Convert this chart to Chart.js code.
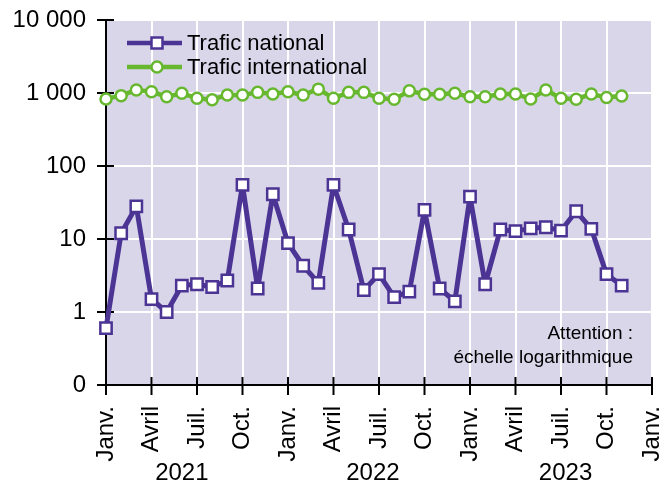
<!DOCTYPE html>
<html lang="fr">
<head>
    <meta charset="UTF-8">
    <title>Trafic national / international</title>
    <style>
        html, body { margin: 0; padding: 0; background: #fff; }
        #chart { width: 665px; height: 484px; }
    </style>
</head>
<body>
    <div id="chart"><canvas id="c" width="665" height="484"></canvas></div>
<script src="https://cdn.jsdelivr.net/npm/chart.js@4/dist/chart.umd.min.js"></script>
<script>
    // mois de janv. 2021 à nov. 2023
    const mois = [
        '2021-01','2021-02','2021-03','2021-04','2021-05','2021-06','2021-07','2021-08','2021-09','2021-10','2021-11','2021-12',
        '2022-01','2022-02','2022-03','2022-04','2022-05','2022-06','2022-07','2022-08','2022-09','2022-10','2022-11','2022-12',
        '2023-01','2023-02','2023-03','2023-04','2023-05','2023-06','2023-07','2023-08','2023-09','2023-10','2023-11'
    ];
    const traficNational = [
        0.6, 12, 28, 1.5, 1.0, 2.3, 2.4, 2.2, 2.7, 55, 2.1, 41,
        8.8, 4.3, 2.5, 55, 13.5, 2.0, 3.3, 1.6, 1.9, 25, 2.1, 1.4,
        38, 2.4, 13.5, 12.8, 14, 14.5, 13, 24, 13.8, 3.3, 2.3
    ];
    const traficInternational = [
        830, 920, 1100, 1040, 890, 990, 850, 810, 940, 940, 1020, 970,
        1040, 940, 1130, 850, 1020, 1020, 850, 820, 1070, 960, 960, 990,
        890, 890, 970, 970, 830, 1100, 850, 820, 970, 870, 910
    ];
    const nomsMois = ['Janv.', 'Avril', 'Juil.', 'Oct.'];
    const annees = ['2021', '2022', '2023'];
    const posAnnees = [5, 17.6, 30.3];
    const yTicks = [0.1, 1, 10, 100, 1000, 10000];

    const violet = '#4b3494';
    const vert = '#67b82e';
    const fond = '#d9d6ea';
    const police = '"Liberation Sans", Arial, sans-serif';

    const fmt = (v) => {
        if (v === 0.1) return '0';
        return String(v).replace(/\B(?=(\d{3})+(?!\d))/g, '\u00a0');
    };

    const sansMarge = (s) => {
        s.paddingLeft = 0;
        s.paddingRight = 0;
        s.paddingTop = 0;
        s.paddingBottom = 0;
    };

    const decor = {
        id: 'decor',
        beforeDraw(chart) {
            const { ctx, chartArea: a } = chart;
            ctx.save();
            ctx.fillStyle = fond;
            ctx.fillRect(a.left, a.top, a.right - a.left, a.bottom - a.top);
            ctx.restore();
        },
        beforeDatasetsDraw(chart) {
            const { ctx, chartArea: a, scales } = chart;
            ctx.save();
            // axes
            ctx.strokeStyle = '#000';
            ctx.lineWidth = 2;
            ctx.beginPath();
            ctx.moveTo(a.left, a.top);
            ctx.lineTo(a.left, a.bottom);
            ctx.lineTo(a.right, a.bottom);
            ctx.stroke();
            // graduations croisées
            scales.y.ticks.forEach(t => {
                const y = scales.y.getPixelForValue(t.value);
                ctx.beginPath();
                ctx.moveTo(a.left - 9, y);
                ctx.lineTo(a.left + 8, y);
                ctx.stroke();
            });
            scales.x.ticks.forEach(t => {
                const x = scales.x.getPixelForValue(t.value);
                ctx.beginPath();
                ctx.moveTo(x, a.bottom - 8);
                ctx.lineTo(x, a.bottom + 10);
                ctx.stroke();
            });
            ctx.restore();
        },
        afterDatasetsDraw(chart) {
            const { ctx, scales } = chart;
            ctx.save();
            // années
            ctx.fillStyle = '#000';
            ctx.font = '24px ' + police;
            ctx.textAlign = 'center';
            ctx.textBaseline = 'alphabetic';
            annees.forEach((an, i) => {
                ctx.fillText(an, scales.x.getPixelForValue(posAnnees[i]), 480);
            });
            // légende
            const items = [
                { label: 'Trafic national', color: violet, style: 'rect' },
                { label: 'Trafic international', color: vert, style: 'circle' }
            ];
            ctx.font = '22px ' + police;
            ctx.textAlign = 'left';
            ctx.textBaseline = 'middle';
            items.forEach((it, i) => {
                const y = 43 + i * 24;
                ctx.strokeStyle = it.color;
                ctx.lineWidth = 4.5;
                ctx.beginPath();
                ctx.moveTo(127, y);
                ctx.lineTo(182, y);
                ctx.stroke();
                ctx.fillStyle = '#fff';
                ctx.lineWidth = 2.5;
                ctx.beginPath();
                if (it.style === 'rect') ctx.rect(151.5, y - 5.5, 11, 11);
                else ctx.arc(157, y, 5.5, 0, Math.PI * 2);
                ctx.fill();
                ctx.stroke();
                ctx.fillStyle = '#000';
                ctx.fillText(it.label, 187, y + 1);
            });
            // avertissement
            ctx.font = '19px ' + police;
            ctx.textAlign = 'right';
            ctx.fillText('Attention :', 633, 334);
            ctx.fillText('échelle logarithmique', 633, 358);
            ctx.restore();
        }
    };

    new Chart(document.getElementById('c'), {
        type: 'line',
        data: {
            datasets: [
                {
                    label: 'Trafic international',
                    data: traficInternational.map((v, i) => ({ x: i, y: v })),
                    borderColor: vert,
                    borderWidth: 4.5,
                    borderJoinStyle: 'round',
                    pointStyle: 'circle',
                    pointRadius: 5.5,
                    pointBorderWidth: 2.5,
                    pointBackgroundColor: '#fff',
                    pointBorderColor: vert,
                    clip: false,
                    tension: 0
                },
                {
                    label: 'Trafic national',
                    data: traficNational.map((v, i) => ({ x: i, y: v })),
                    borderColor: violet,
                    borderWidth: 5,
                    borderJoinStyle: 'round',
                    pointStyle: 'rect',
                    pointRadius: 8,
                    pointBorderWidth: 2.5,
                    pointBackgroundColor: '#fff',
                    pointBorderColor: violet,
                    clip: false,
                    tension: 0
                }
            ]
        },
        options: {
            responsive: false,
            animation: false,
            maintainAspectRatio: false,
            layout: { padding: { top: 20, right: 13, left: 0, bottom: 0 } },
            plugins: { legend: { display: false }, tooltip: { enabled: false } },
            scales: {
                x: {
                    type: 'linear',
                    min: 0,
                    max: 36,
                    afterBuildTicks: (s) => {
                        const t = [];
                        for (let v = 0; v <= 36; v += 3) t.push({ value: v });
                        s.ticks = t;
                    },
                    afterFit: (s) => { s.height = 99; sansMarge(s); },
                    grid: { color: '#fff', lineWidth: 2, drawTicks: false },
                    border: { display: false },
                    ticks: {
                        autoSkip: false,
                        maxRotation: 90,
                        minRotation: 90,
                        padding: 21,
                        color: '#000',
                        font: { family: police, size: 24 },
                        callback: (v) => nomsMois[(v / 3) % 4]
                    }
                },
                y: {
                    type: 'logarithmic',
                    min: 0.1,
                    max: 10000,
                    afterBuildTicks: (s) => { s.ticks = yTicks.map(v => ({ value: v })); },
                    afterFit: (s) => { s.width = 106; sansMarge(s); },
                    grid: { color: '#fff', lineWidth: 2, drawTicks: false },
                    border: { display: false },
                    ticks: {
                        padding: 20,
                        color: '#000',
                        font: { family: police, size: 24 },
                        callback: (v) => fmt(v)
                    }
                }
            }
        },
        plugins: [decor]
    });
</script>
</body>
</html>
